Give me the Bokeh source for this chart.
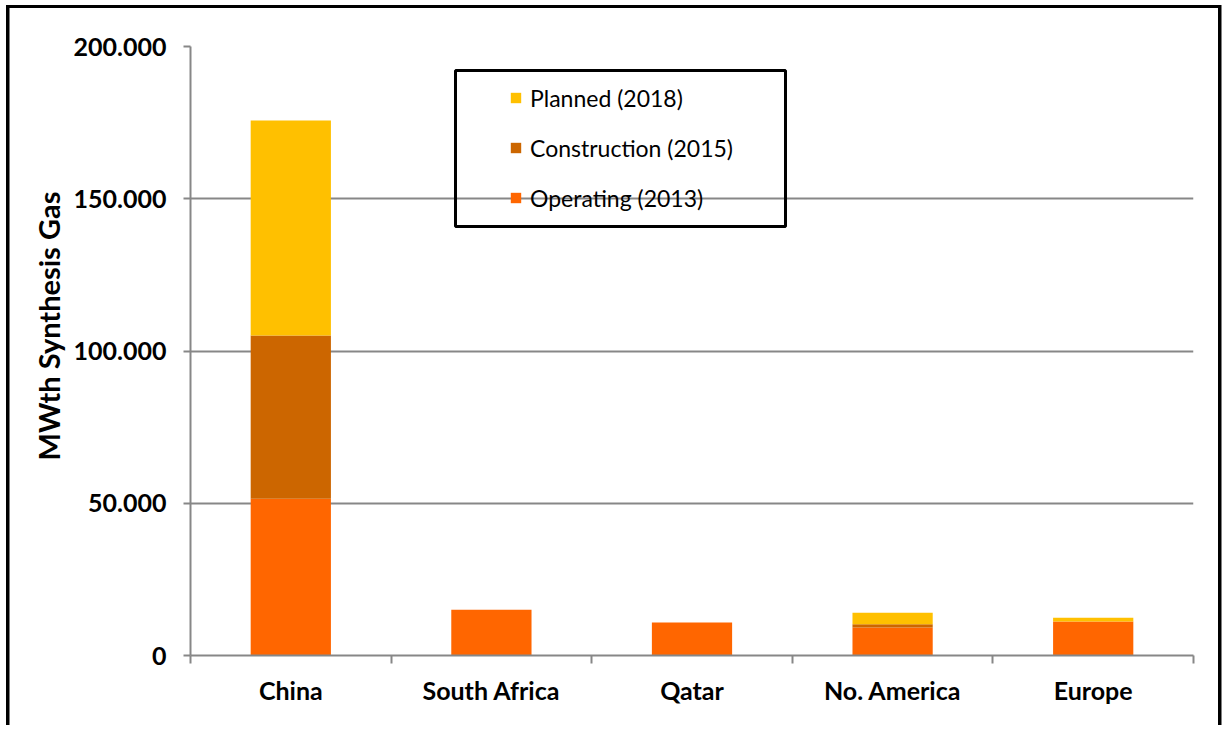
from bokeh.plotting import figure
from bokeh.models import (ColumnDataSource, FixedTicker, Legend, LegendItem,
                          BoxAnnotation, Range1d, Title)
from bokeh.embed import file_html
from bokeh.resources import INLINE

regions = ["China", "South Africa", "Qatar", "No. America", "Europe"]
operating = [51500, 15000, 10800, 9200, 11200]
construction = [53600, 0, 0, 1100, 0]
planned = [70600, 0, 0, 3700, 1200]
series = ["operating", "construction", "planned"]
series_labels = ["Operating (2013)", "Construction (2015)", "Planned (2018)"]
colors = ["#FF6600", "#CC6600", "#FFC000"]
y_ticks = [0, 50000, 100000, 150000, 200000]
y_tick_labels = ["0", "50.000", "100.000", "150.000", "200.000"]
y_title = "MWth Synthesis Gas"

FONT = "Lato"
GRAY = "#878787"
W, H = 1222, 731

xpos = [i + 0.5 for i in range(len(regions))]
source = ColumnDataSource(dict(x=xpos, operating=operating,
                               construction=construction, planned=planned))

p = figure(width=W, height=H, output_backend="svg", toolbar_location=None,
           x_range=Range1d(0, len(regions)), y_range=Range1d(0, 200000),
           min_border_left=190, min_border_top=46, min_border_right=29,
           min_border_bottom=76)
p.outline_line_color = None
p.background_fill_color = "white"
p.border_fill_color = None
# outer black chart frame drawn by CSS (left, top and right edges)
p.styles = {
    "background-color": "white",
    "box-shadow": ("inset 0 -106px 0 -100px white, "
                   "inset 2.75px 1.75px 0 3.25px white, "
                   "inset 2.75px 1.25px 0 6.75px black"),
}

renderers = p.vbar_stack(series, x="x", width=0.4, source=source,
                         color=colors, line_color=None)

# x axis: labels at centres, ticks at category boundaries
xa = p.xaxis[0]
xa.ticker = FixedTicker(ticks=xpos, minor_ticks=list(range(len(regions) + 1)))
xa.major_label_overrides = {x: r for x, r in zip(xpos, regions)}
xa.major_tick_line_color = None
xa.major_tick_out = 0
xa.major_tick_in = 0
xa.minor_tick_line_color = GRAY
xa.minor_tick_line_width = 2
xa.minor_tick_out = 8
xa.minor_tick_in = 0
xa.axis_line_color = GRAY
xa.axis_line_width = 2
xa.major_label_standoff = 11
xa.major_label_text_font = FONT
xa.major_label_text_font_style = "bold"
xa.major_label_text_font_size = "25px"
xa.major_label_text_color = "black"

ya = p.yaxis[0]
ya.ticker = FixedTicker(ticks=y_ticks, minor_ticks=[])
ya.major_label_overrides = {t: l for t, l in zip(y_ticks, y_tick_labels)}
ya.major_tick_line_color = GRAY
ya.major_tick_line_width = 2
ya.major_tick_out = 7
ya.major_tick_in = 0
ya.minor_tick_line_color = None
ya.axis_line_color = GRAY
ya.axis_line_width = 2
ya.major_label_standoff = 17
ya.major_label_text_font = FONT
ya.major_label_text_font_style = "bold"
ya.major_label_text_font_size = "25px"
ya.major_label_text_color = "black"

p.xgrid.grid_line_color = None
p.ygrid.grid_line_color = GRAY
p.ygrid.grid_line_width = 2

# y axis title, a little above centre as in the original
p.add_layout(Title(text=y_title, align="left", offset=195, standoff=10,
                   text_font=FONT, text_font_style="bold",
                   text_font_size="29px", text_color="black"), "left")

# legend frame
box = BoxAnnotation(left=265, right=595, bottom=429, top=585,
                    left_units="screen", right_units="screen",
                    bottom_units="screen", top_units="screen",
                    fill_color=None, fill_alpha=0, line_color="black",
                    line_alpha=1, line_width=3, level="annotation")
p.add_layout(box)

items = [LegendItem(label=series_labels[i], renderers=[renderers[i]])
         for i in (2, 1, 0)]
legend = Legend(items=items, location=(319, 443.5), padding=0, spacing=22,
                glyph_width=13, glyph_height=13, label_height=22,
                label_standoff=8, border_line_color=None,
                background_fill_alpha=0, label_text_font=FONT,
                label_text_font_size="23px", label_text_color="black")
p.add_layout(legend)

open("out.html", "w").write(file_html(p, INLINE))
